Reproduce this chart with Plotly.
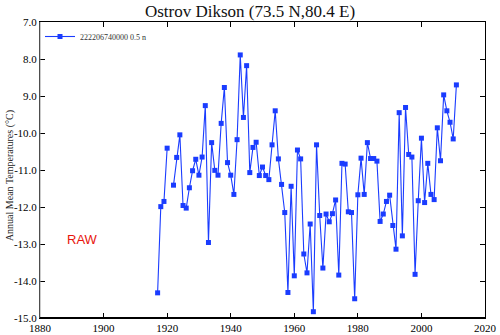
import plotly.graph_objects as go

# Annual mean temperature record, Ostrov Dikson (raw station data)
years = [1917, 1918, 1919, 1920, 1921, 1922, 1923, 1924, 1925, 1926,
         1927, 1928, 1929, 1930, 1931, 1932, 1933, 1934, 1935, 1936,
         1937, 1938, 1939, 1940, 1941, 1942, 1943, 1944, 1945, 1946,
         1947, 1948, 1949, 1950, 1951, 1952, 1953, 1954, 1955, 1956,
         1957, 1958, 1959, 1960, 1961, 1962, 1963, 1964, 1965, 1966,
         1967, 1968, 1969, 1970, 1971, 1972, 1973, 1974, 1975, 1976,
         1977, 1978, 1979, 1980, 1981, 1982, 1983, 1984, 1985, 1986,
         1987, 1988, 1989, 1990, 1991, 1992, 1993, 1994, 1995, 1996,
         1997, 1998, 1999, 2000, 2001, 2002, 2003, 2004, 2005, 2006,
         2007, 2008, 2009, 2010, 2011]
temps = [-14.32, -11.99, -11.85, -10.41, None, -11.41, -10.66, -10.05, -11.96, -12.03,
         -11.48, -11.02, -10.71, -11.14, -10.65, -9.26, -12.96, -10.26, -11.01, -11.14,
         -9.74, -8.77, -10.80, -11.14, -11.66, -10.18, -7.89, -9.58, -8.18, -11.07,
         -10.39, -10.25, -11.15, -10.92, -11.15, -11.26, -10.32, -9.40, -10.70, -11.39,
         -12.15, -14.31, -11.44, -13.86, -10.46, -10.70, -13.27, -13.78, -12.46, -14.83,
         -10.32, -12.23, -13.65, -12.19, -12.40, -12.18, -11.81, -13.84, -10.82, -10.84,
         -12.13, -12.15, -14.48, -11.67, -10.68, -11.66, -10.26, -10.69, -10.69, -10.76,
         -12.39, -12.19, -11.85, -11.68, -12.50, -13.14, -9.45, -12.78, -9.31, -10.58,
         -10.65, -13.82, -11.83, -10.14, -11.88, -10.82, -11.66, -11.80, -9.86, -10.75,
         -8.97, -9.40, -9.71, -10.16, -8.70]

x_ticks = [1880, 1900, 1920, 1940, 1960, 1980, 2000, 2020]
y_ticks = [-7, -8, -9, -10, -11, -12, -13, -14, -15]
y_labels = ["7.0", "8.0", "9.0", "-10.0", "-11.0", "-12.0", "-13.0", "-14.0", "-15.0"]

series_name = "222206740000 0.5 n"
blue = "#1a3cff"
serif = "Liberation Serif, Times New Roman, serif"

fig = go.Figure()
fig.add_trace(go.Scatter(
    x=years, y=temps, mode="lines+markers", name=series_name,
    connectgaps=False,
    line=dict(color=blue, width=1.1),
    marker=dict(symbol="square", size=5, color=blue),
))

fig.update_layout(
    width=500, height=335,
    margin=dict(l=40, r=15, t=22, b=17),
    paper_bgcolor="white", plot_bgcolor="white",
    font=dict(family=serif, color="black", size=11),
    title=dict(text="Ostrov Dikson (73.5 N,80.4 E)", x=0.5, xanchor="center",
               y=0.968, yanchor="middle",
               font=dict(family=serif, size=17, color="#111")),
    showlegend=True,
    legend=dict(x=0.0, y=1.0, xanchor="left", yanchor="top",
                bgcolor="rgba(0,0,0,0)", borderwidth=0,
                font=dict(family=serif, size=8, color="#333"),
                itemwidth=30, tracegroupgap=0),
    xaxis=dict(range=[1880, 2020], tickvals=x_ticks, ticks="inside", ticklen=5,
               tickcolor="black", showgrid=False, zeroline=False, automargin=False,
               showline=True, linecolor="black", linewidth=1, mirror="ticks",
               tickfont=dict(family=serif, size=11)),
    yaxis=dict(range=[-15, -7], tickvals=y_ticks, ticktext=y_labels,
               ticks="inside", ticklen=5, tickcolor="black", showgrid=False,
               zeroline=False, showline=True, linecolor="black", linewidth=1,
               automargin=False, mirror="ticks", tickfont=dict(family=serif, size=11)),
)

# axis title sits over the tick labels
fig.add_annotation(text="Annual Mean Temperatures (°C)", xref="paper", yref="paper",
                   x=-0.067, y=0.48, textangle=-90, showarrow=False,
                   xanchor="center", yanchor="middle",
                   font=dict(family=serif, size=10, color="#222"))

# frame edges: light left edge, heavier bottom edge
fig.add_shape(type="line", xref="paper", yref="paper", x0=0, x1=0, y0=0, y1=1,
              line=dict(color="#9a9a9a", width=1))
fig.add_shape(type="line", xref="paper", yref="paper", x0=0, x1=1, y0=0, y1=0,
              line=dict(color="black", width=2))

fig.add_annotation(text="RAW", xref="paper", yref="paper", x=0.095, y=0.265,
                   showarrow=False, xanchor="center", yanchor="middle",
                   font=dict(family="Liberation Sans, Arial, sans-serif", size=13,
                             color="#e8150c"))

fig.write_html("out.html")
